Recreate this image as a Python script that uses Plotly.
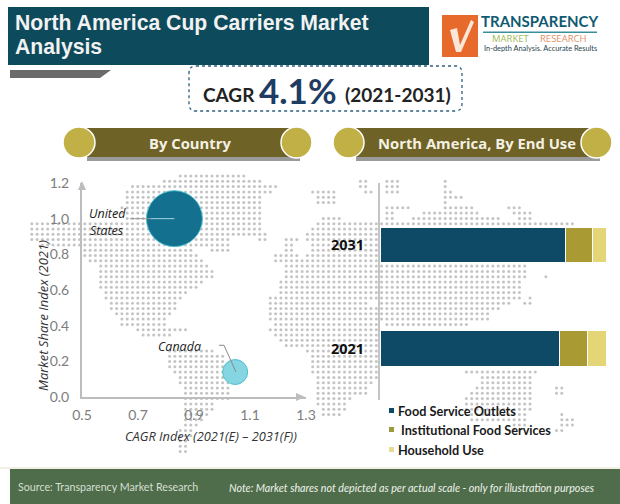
import numpy as np
import plotly.graph_objects as go

W, H = 620, 504

# --- chart data ---
COUNTRIES = ["United States", "Canada"]
CAGR_INDEX = [0.83, 1.047]
SHARE_INDEX = [1.0, 0.14]
BUBBLE_SIZE = [56, 25]
YEARS = ["2021", "2031"]
SEGMENTS = ["Food Service Outlets", "Institutional Food Services", "Household Use"]
FOOD_SERVICE = [79.6, 81.9]
INSTITUTIONAL = [12.0, 12.0]
HOUSEHOLD = [8.4, 6.1]
X_TICKS = [0.5, 0.7, 0.9, 1.1, 1.3]
Y_TICKS = [0.0, 0.2, 0.4, 0.6, 0.8, 1.0, 1.2]

# --- decorative dotted world map: row -> dotted spans, in map-grid units ---
MAP_ROWS = {
    0: [(177, 247)], 1: [(160, 263), (360, 368), (385, 398), (442, 450)],
    2: [(130, 278), (360, 368), (385, 398), (442, 450)],
    3: [(127, 275), (312, 335), (365, 372), (385, 400), (442, 452)],
    4: [(125, 263), (318, 335), (442, 462)], 5: [(125, 263), (315, 335), (442, 450)],
    6: [(120, 263), (385, 412), (442, 475), (505, 520)],
    7: [(115, 262), (385, 395), (420, 478), (510, 535)],
    8: [(125, 262), (320, 340), (385, 395), (410, 500), (515, 530)],
    9: [(28, 262), (318, 378), (380, 575)], 10: [(28, 262), (312, 378)],
    11: [(28, 262), (265, 270), (305, 378)], 12: [(30, 232), (258, 265), (285, 300), (305, 378)],
    13: [(40, 230), (282, 296), (310, 378)], 14: [(83, 193), (210, 230), (282, 296), (310, 378)],
    15: [(83, 197), (275, 300), (305, 378)], 16: [(90, 205), (275, 378)],
    17: [(97, 207), (285, 378), (380, 525)], 18: [(100, 212), (285, 378), (380, 525)],
    19: [(100, 213), (285, 378), (380, 525), (545, 548)], 20: [(100, 205), (280, 378), (380, 522)],
    21: [(100, 200), (280, 378), (380, 522)], 22: [(103, 190), (278, 378), (380, 520), (525, 528)],
    23: [(105, 185), (270, 378), (380, 520), (525, 530)], 24: [(108, 180), (270, 370), (380, 510), (520, 530)],
    25: [(110, 175), (270, 378), (380, 500)], 26: [(112, 172), (270, 378), (380, 490)],
    27: [(118, 165), (270, 378), (380, 490)], 28: [(118, 165), (275, 378), (385, 470)],
    29: [(135, 190), (270, 378)], 30: [(140, 170), (275, 378)], 31: [(278, 378)], 32: [(285, 378)],
    33: [(167, 217), (305, 378)], 34: [(167, 225), (310, 378)], 35: [(167, 225), (312, 378)],
    36: [(168, 225), (312, 378)], 37: [(170, 225), (312, 378), (465, 540)],
    38: [(175, 228), (315, 378), (480, 530)], 39: [(180, 230), (315, 375), (480, 530)],
    40: [(183, 232), (315, 370), (475, 530), (555, 562)], 41: [(183, 232), (315, 370), (470, 530), (555, 562)],
    42: [(185, 230), (315, 355), (465, 530)], 43: [(185, 215), (315, 345), (465, 530)],
    44: [(185, 212), (320, 345), (465, 530)], 45: [(185, 208), (320, 340), (465, 525), (560, 565)],
    46: [(185, 205), (470, 525), (560, 575)], 47: [(182, 198), (510, 525), (560, 575)],
    48: [(180, 195), (510, 520), (555, 565)], 49: [(178, 192)], 50: [(178, 190)], 51: [(178, 190)], 52: [(178, 190)],
}
STEP = 5.3
mx, my = [], []
for r, spans in MAP_ROWS.items():
    for a, b in spans:
        for c in np.arange(np.ceil(a / STEP), np.floor(b / STEP) + 1):
            mx.append(c * STEP)
            my.append(176 + r * STEP)


def px(x):
    return x / W


def py(y):
    return 1 - y / H


shapes, notes = [], []


def rect(x0, y0, x1, y1, fill, **kw):
    shapes.append(dict(type="rect", xref="paper", yref="paper", x0=px(x0), x1=px(x1), y0=py(y1), y1=py(y0),
                       fillcolor=fill, line=dict(width=0), layer=kw.get("layer", "below")))


def oval(x0, y0, x1, y1, fill, line="white"):
    shapes.append(dict(type="circle", xref="paper", yref="paper", x0=px(x0), x1=px(x1), y0=py(y1), y1=py(y0),
                       fillcolor=fill, line=dict(width=1.5, color=line), layer="above"))


def poly(points, fill, line_color=None, dash=None, lw=0):
    d = "M" + " L".join(f"{px(a):.5f},{py(b):.5f}" for a, b in points) + " Z"
    shapes.append(dict(type="path", xref="paper", yref="paper", path=d, fillcolor=fill,
                       line=dict(width=lw, color=line_color or fill), layer="above"))


def text(s, x, y, size, color, anchor="left", family="Open Sans", bold=False, italic=False, angle=0):
    if bold:
        s = f"<b>{s}</b>"
    if italic:
        s = f"<i>{s}</i>"
    notes.append(dict(text=s, xref="paper", yref="paper", x=px(x), y=py(y), xanchor=anchor, yanchor="middle",
                      showarrow=False, textangle=angle, font=dict(size=size, color=color, family=family)))


# header
rect(8, 7, 429, 65, "#0d4a5b")
poly([(10, 70), (111, 70), (100, 78), (10, 78)], "#6b6b6b")
text("North America Cup Carriers Market", 13, 23, 21.2, "#f2f2f2", family="Liberation Sans", bold=True)
text("Analysis", 13, 47, 21.2, "#f2f2f2", family="Liberation Sans", bold=True)

# logo
rect(442, 15, 478, 57, "#e8692c")
poly([(450, 30), (457, 28), (460, 45), (471, 20), (474, 22), (461, 52), (456, 52)], "#fbe7d8")
text("TRANSPARENCY", 540, 21, 15, "#0f5a72", anchor="center", family="Lato", bold=True)
rect(483, 31.5, 597, 33, "#3a8f9d")
text("MARKET", 490, 39, 9.5, "#9fbb5c", family="Open Sans")
text("RESEARCH", 589, 39, 9.5, "#df9268", anchor="right", family="Open Sans")
text("In-depth Analysis. Accurate Results", 540, 49, 7.4, "#1f4450", anchor="center", family="Lato")

# CAGR box
x0, x1, y0, y1, r = 189, 462, 66, 111, 7
shapes.append(dict(type="path", xref="paper", yref="paper", layer="above",
                   path=(f"M{px(x0 + r)},{py(y0)} L{px(x1 - r)},{py(y0)} Q{px(x1)},{py(y0)} {px(x1)},{py(y0 + r)} "
                         f"L{px(x1)},{py(y1 - r)} Q{px(x1)},{py(y1)} {px(x1 - r)},{py(y1)} L{px(x0 + r)},{py(y1)} "
                         f"Q{px(x0)},{py(y1)} {px(x0)},{py(y1 - r)} L{px(x0)},{py(y0 + r)} Q{px(x0)},{py(y0)} {px(x0 + r)},{py(y0)} Z"),
                   line=dict(color="#2f6280", width=1.3, dash="dot")))
text("CAGR", 229, 94, 19, "#222222", anchor="center", family="Lato", bold=True)
text("4.1%", 298, 90, 35, "#1f3d63", anchor="center", family="Lato", bold=True)
text("(2021-2031)", 398, 94, 19, "#222222", anchor="center", family="Lato", bold=True)

# section pills
for a, b, cl, cr, label, cx in [(79, 296, (63, 95), (281, 312), "By Country", 190),
                                (348, 596, (333, 364), (581, 612), "North America, By End Use", 477)]:
    rect(a + 8, 157, b + 4, 161, "#9a9a9a", layer="above")
    rect(a, 128, b, 157, "#6e6226", layer="above")
    oval(cl[0], 127, cl[1], 158, "#c0b046")
    oval(cr[0], 127, cr[1], 158, "#c0b046")
    text(label, cx, 143, 14.8, "#f4f1e2", anchor="center", family="Open Sans", bold=True)

# axis arrow heads
poly([(82, 181), (78, 190), (86, 190)], "#bdbdbd")
poly([(305, 397), (296, 393), (296, 401)], "#bdbdbd")

# axis titles
text("Market Share Index (2021)", 43, 316, 13, "#333333", anchor="center", italic=True, angle=-90)
text("CAGR Index (2021(E) – 2031(F))", 211, 436, 12.8, "#333333", anchor="center", italic=True)

# bubble leader lines and labels
for (xa, ya, xb, yb, c) in [(0.671, 1.0, 0.745, 1.0, "#9a9a9a"), (0.745, 1.0, 0.83, 1.0, "#a9d5e0"),
                            (0.989, 0.29, 1.007, 0.29, "#8a8a8a"), (1.007, 0.29, 1.05, 0.14, "#8a8a8a")]:
    shapes.append(dict(type="line", xref="x2", yref="y2", x0=xa, y0=ya, x1=xb, y1=yb, layer="above",
                       line=dict(color=c, width=1)))
text("United", 87, 213, 12.5, "#222222", italic=True)
text("States", 88, 231, 12.5, "#222222", italic=True)
text("Canada", 156, 346, 12.5, "#222222", italic=True)

# hand-placed legend
LEG_COLORS = ["#0e4a66", "#9c9a3c", "#e3dc93"]
for name, color, y, tx in zip(SEGMENTS, LEG_COLORS, [411, 430, 450], [396, 399, 396]):
    rect(389, y - 3, 394, y + 2, color, layer="above")
    text(name, tx, y, 12.7, "#1a1a1a", family="Lato", bold=True)

# footer
rect(0, 467, W, 469, "#f1efe6")
rect(10, 469, W, H, "#4f6d4a")
text("Source: Transparency Market Research", 16, 486, 10.7, "#d6dfd2", family="Lato")
text("Note: Market shares not depicted as per actual scale - only for illustration purposes", 227, 487, 10.7,
     "#eef2ea", family="Lato", italic=True)

fig = go.Figure()
fig.add_trace(go.Scatter(x=mx, y=my, mode="markers", xaxis="x", yaxis="y", hoverinfo="skip", showlegend=False,
                         marker=dict(size=3, color="#c4c4c4", line=dict(width=0))))
fig.add_trace(go.Scatter(x=CAGR_INDEX, y=SHARE_INDEX, text=COUNTRIES, mode="markers", xaxis="x2", yaxis="y2",
                         showlegend=False,
                         marker=dict(size=BUBBLE_SIZE, color=["#14708f", "#86d5e2"], opacity=1,
                                     line=dict(width=1, color="#4fc0d0"))))
for name, vals, color in zip(SEGMENTS, [FOOD_SERVICE, INSTITUTIONAL, HOUSEHOLD], ["#0e4a66", "#a99a34", "#e4d677"]):
    fig.add_trace(go.Bar(y=YEARS, x=vals, name=name, orientation="h", xaxis="x3", yaxis="y3", width=0.345,
                         showlegend=False, marker=dict(color=color, line=dict(color="white", width=1))))

tick_font = dict(size=14, color="#7d7d7d", family="Lato")
fig.update_layout(
    template="none",
    width=W, height=H, autosize=False, margin=dict(l=0, r=0, t=0, b=0, pad=0, autoexpand=False),
    paper_bgcolor="white", plot_bgcolor="rgba(0,0,0,0)", barmode="stack", showlegend=False,
    shapes=shapes, annotations=notes,
    xaxis=dict(domain=[0, 1], range=[0, W], visible=False, fixedrange=True, automargin=False),
    yaxis=dict(domain=[0, 1], range=[H, 0], visible=False, fixedrange=True, automargin=False),
    xaxis2=dict(domain=[px(82), px(306)], range=[0.5, 1.3], anchor="y2", tickvals=X_TICKS, tickformat=".1f",
                showgrid=False, zeroline=False, showline=True, linecolor="#bdbdbd", linewidth=2, ticks="",
                tickfont=tick_font, ticklabelstandoff=4, automargin=False),
    yaxis2=dict(domain=[py(397), py(183)], range=[0, 1.2], anchor="x2", tickvals=Y_TICKS, tickformat=".1f",
                showgrid=False, zeroline=False, showline=True, linecolor="#bdbdbd", linewidth=2, ticks="",
                tickfont=tick_font, ticklabelstandoff=8, automargin=False),
    xaxis3=dict(domain=[px(380), px(606)], range=[0, 100], anchor="y3", visible=False, automargin=False),
    yaxis3=dict(domain=[py(400), py(183)], range=[-0.4976, 1.599], anchor="x3", type="category",
                categoryorder="array", categoryarray=YEARS, showgrid=False, zeroline=False, showline=True,
                linecolor="#c4c4c4", linewidth=2, ticks="", ticklabelstandoff=11, automargin=False,
                tickfont=dict(size=14.5, color="#111111", family="Open Sans", weight="bold")),
)
fig.write_html("out.html", config={"displayModeBar": False})
with open("out.html", encoding="utf-8") as f:
    page = f.read()
page = page.replace("<body>", '<body style="margin:0;overflow:hidden">', 1)
with open("out.html", "w", encoding="utf-8") as f:
    f.write(page)
